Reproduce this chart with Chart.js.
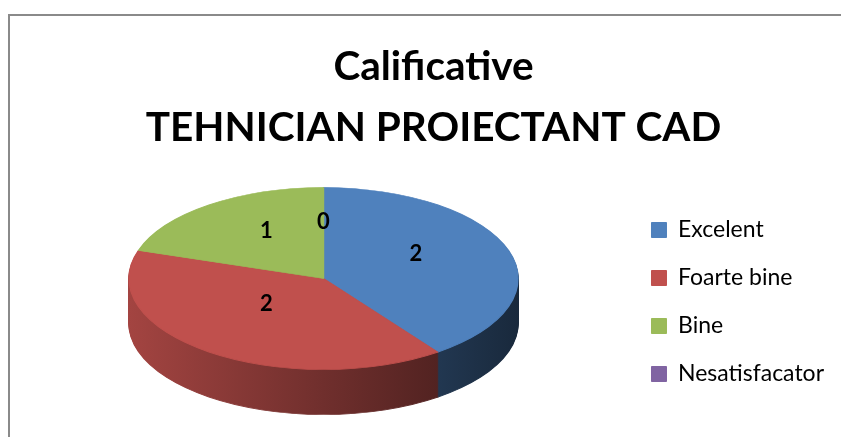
<!DOCTYPE html>
<html>
<head>
<meta charset="utf-8">
<script src="https://cdn.jsdelivr.net/npm/chart.js@4.4.0/dist/chart.umd.min.js"></script>
<style>
  html, body { margin: 0; padding: 0; background: #fff; overflow: hidden; }
  #frame { position: absolute; left: 8px; top: 14px; border: 2px solid #8a8a8a; background: #fff; }
  canvas { display: block; }
</style>
</head>
<body>
<div id="frame"><canvas id="myChart" width="847" height="422"></canvas></div>
<script>
const titleLines = ["Calificative", "TEHNICIAN PROIECTANT CAD"];
const categories = ["Excelent", "Foarte bine", "Bine", "Nesatisfacator"];
const counts = [2, 2, 1, 0];
const sliceColors = ["#4F81BD", "#C0504D", "#9BBB59", "#8064A2"];

// how the flat pie gets squashed into a 3d looking disc (canvas px)
const tilt = { centerX: 313.5, centerY: 262.5, rx: 194.5, ry: 91, depth: 45, labelLift: 11 };

function shade(hex, f) {
  const n = parseInt(hex.slice(1), 16);
  const r = Math.round(((n >> 16) & 255) * f);
  const g = Math.round(((n >> 8) & 255) * f);
  const b = Math.round((n & 255) * f);
  return "rgb(" + r + "," + g + "," + b + ")";
}

function squash(ctx, arc, dy) {
  ctx.translate(tilt.centerX, tilt.centerY + dy);
  ctx.scale(tilt.rx / arc.outerRadius, tilt.ry / arc.outerRadius);
  ctx.translate(-arc.x, -arc.y);
}

const pie3d = {
  id: "pie3d",
  beforeDatasetsDraw(chart) {
    const ctx = chart.ctx;
    const arcs = chart.getDatasetMeta(0).data;
    const a0 = arcs[0];
    // side wall: same arcs stacked downwards in darker colours
    for (let d = tilt.depth; d > 0; d--) {
      ctx.save();
      squash(ctx, a0, d);
      arcs.forEach((arc, i) => {
        const g = ctx.createLinearGradient(arc.x - arc.outerRadius, 0, arc.x + arc.outerRadius, 0);
        g.addColorStop(0, shade(sliceColors[i], 0.85));
        g.addColorStop(1, shade(sliceColors[i], 0.32));
        const keep = arc.options;
        arc.options = Object.assign({}, keep, { backgroundColor: g, borderColor: g });
        arc.draw(ctx);
        arc.options = keep;
      });
      ctx.restore();
    }
    // top face is drawn by chart.js inside this transform
    ctx.save();
    squash(ctx, a0, 0);
  },
  afterDatasetsDraw(chart) {
    const ctx = chart.ctx;
    ctx.restore();
    const arcs = chart.getDatasetMeta(0).data;
    ctx.save();
    ctx.fillStyle = "#000";
    ctx.font = "bold 22px Lato";
    ctx.textAlign = "center";
    ctx.textBaseline = "middle";
    arcs.forEach((arc, i) => {
      const p = arc.tooltipPosition();
      const sx = tilt.rx / arc.outerRadius, sy = tilt.ry / arc.outerRadius;
      const px = tilt.centerX + (p.x - arc.x) * sx;
      const py = tilt.centerY + (p.y - arc.y) * sy - tilt.labelLift;
      ctx.fillText(String(counts[i]), px, py);
    });
    ctx.restore();
  }
};

var ctx = document.getElementById("myChart").getContext("2d");
var myChart = new Chart(ctx, {
  type: "pie",
  data: {
    labels: categories,
    datasets: [
      {
        data: counts,
        backgroundColor: sliceColors,
        borderColor: sliceColors,
        borderWidth: 1,
        clip: false,
      },
    ],
  },
  plugins: [pie3d],
  options: {
    responsive: false,
    animation: false,
    layout: { padding: { left: 23, right: 23, top: 0, bottom: 0 } },
    plugins: {
      title: {
        display: true,
        text: titleLines,
        color: "#000",
        font: { family: "Lato", size: 40.5, weight: "bold", lineHeight: "61px" },
        padding: { top: 20, bottom: 8 },
      },
      legend: {
        position: "right",
        fullSize: false,
        labels: {
          boxWidth: 15,
          boxHeight: 15,
          padding: 25,
          color: "#000",
          font: { family: "Lato", size: 23 },
        },
      },
      tooltip: { enabled: false },
    },
  },
});
</script>
</body>
</html>
